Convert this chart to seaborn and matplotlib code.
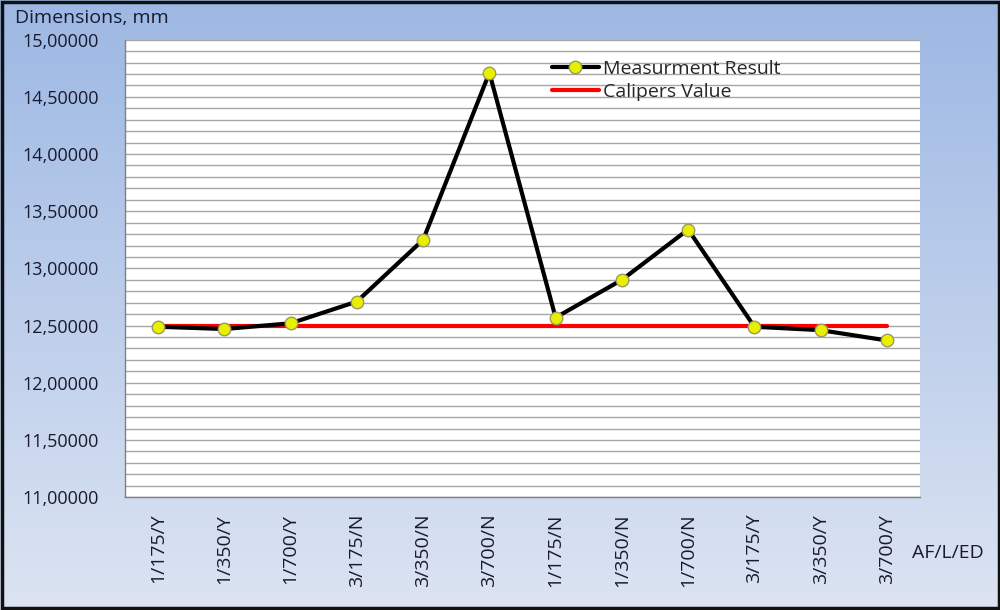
import numpy as np
import pandas as pd
import matplotlib
matplotlib.use("Agg")
import matplotlib.pyplot as plt
import seaborn as sns
from matplotlib.ticker import MultipleLocator, FuncFormatter

# --- data ---
categories = ["1/175/Y", "1/350/Y", "1/700/Y", "3/175/N", "3/350/N", "3/700/N",
              "1/175/N", "1/350/N", "1/700/N", "3/175/Y", "3/350/Y", "3/700/Y"]
measurement = [12.49, 12.47, 12.52, 12.71, 13.25, 14.71,
               12.57, 12.90, 13.34, 12.49, 12.46, 12.37]
calipers = [12.5] * len(categories)

df = pd.DataFrame({"pos": np.arange(len(categories)),
                   "Measurment Result": measurement,
                   "Calipers Value": calipers})

sns.set_style("white")
plt.rcParams["font.family"] = ["Open Sans", "DejaVu Sans"]

fig = plt.figure(figsize=(10, 6.1), dpi=100)

# gradient background like the spreadsheet chart area
bg = fig.add_axes([0, 0, 1, 1], zorder=0)
grad = np.linspace(0, 1, 256).reshape(-1, 1)
cmap = matplotlib.colors.LinearSegmentedColormap.from_list("bg", ["#9db8e4", "#dce4f2"])
bg.imshow(grad, aspect="auto", cmap=cmap, extent=[0, 1, 0, 1])
bg.set_axis_off()
fig.patches.append(plt.Rectangle((0.0015, 0.0025), 0.997, 0.995, transform=fig.transFigure,
                                 fill=False, edgecolor="#111111", linewidth=2.5, zorder=5))

ax = fig.add_axes([0.125, 0.185, 0.795, 0.75], zorder=1)
ax.set_facecolor("white")

sns.lineplot(data=df, x="pos", y="Calipers Value", ax=ax, color="#ff0000",
             linewidth=3, label="Calipers Value", zorder=3)
sns.lineplot(data=df, x="pos", y="Measurment Result", ax=ax, color="black",
             linewidth=3, marker="o", markersize=9, markerfacecolor="#e8f000",
             markeredgecolor="#9a9a60", markeredgewidth=1, label="Measurment Result", zorder=4)

ax.set_xlim(-0.5, len(categories) - 0.5)
ax.set_ylim(11, 15)
ax.yaxis.set_major_locator(MultipleLocator(0.5))
ax.yaxis.set_minor_locator(MultipleLocator(0.1))
ax.yaxis.set_major_formatter(FuncFormatter(lambda v, p: f"{v:.5f}".replace(".", ",")))
ax.grid(True, which="both", axis="y", color="#a6a6a6", linewidth=1)
ax.set_axisbelow(True)

ax.set_xticks(np.arange(len(categories)))
ax.set_xticklabels(categories, rotation=90, fontsize=14, color="#1a1a2e")
ax.set_xticks(np.arange(len(categories) + 1) - 0.5, minor=True)
ax.tick_params(axis="x", which="major", length=0, pad=12)
ax.tick_params(axis="x", which="minor", length=7, color="#808080", direction="out")
ax.tick_params(axis="y", which="major", length=7, color="#808080", direction="out",
               labelsize=13, pad=12)
ax.tick_params(axis="y", which="minor", length=0)
for lbl in ax.get_yticklabels():
    lbl.set_color("#1a1a2e")

for side in ["top", "right"]:
    ax.spines[side].set_visible(False)
for side in ["left", "bottom"]:
    ax.spines[side].set_color("#808080")
    ax.spines[side].set_linewidth(1)

ax.set_xlabel("")
ax.set_ylabel("")
fig.text(0.015, 0.97, "Dimensions, mm", fontsize=14, va="center", ha="left", color="#1a1a2e")
fig.text(0.912, 0.094, "AF/L/ED", fontsize=14, va="center", ha="left", color="#1a1a2e")

handles, labels = ax.get_legend_handles_labels()
leg = ax.legend(handles[::-1], labels[::-1], loc="upper left", bbox_to_anchor=(0.52, 0.985),
                frameon=False, fontsize=14, handlelength=2.4, labelspacing=0.25,
                handletextpad=0.2, borderpad=0.2)

fig.savefig("out.png", dpi=100)
